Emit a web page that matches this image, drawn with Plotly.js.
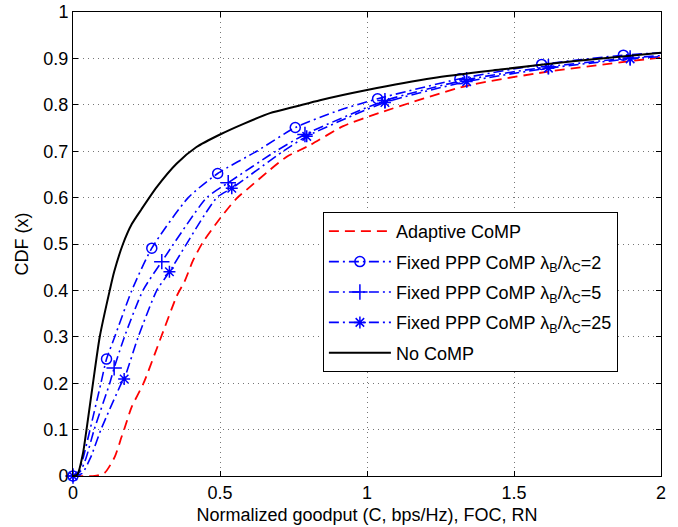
<!DOCTYPE html>
<html>
<head>
<meta charset="utf-8">
<script src="https://cdn.plot.ly/plotly-3.0.1.min.js"></script>
<style>html,body{margin:0;padding:0;background:#fff;}#chart{width:678px;height:527px;}</style>
</head>
<body>
<div id="chart"></div>
<script>
// ---- Data ----
const seriesNames = [
  "Adaptive CoMP",
  "Fixed PPP CoMP λ<sub>B</sub>/λ<sub>C</sub>=2",
  "Fixed PPP CoMP λ<sub>B</sub>/λ<sub>C</sub>=5",
  "Fixed PPP CoMP λ<sub>B</sub>/λ<sub>C</sub>=25",
  "No CoMP"
];

const adaptiveX = [0, 0.074, 0.108, 0.142, 0.165, 0.174, 0.199, 0.24, 0.30, 0.353, 0.38, 0.408, 0.442, 0.5, 0.556, 0.6, 0.67, 0.727, 0.806, 0.919, 1.044, 1.339, 1.611, 2.0];
const adaptiveY = [0, 0, 0.007, 0.041, 0.084, 0.1, 0.148, 0.2, 0.3, 0.388, 0.42, 0.464, 0.504, 0.555, 0.598, 0.622, 0.66, 0.688, 0.713, 0.754, 0.783, 0.841, 0.871, 0.902];

const ppp2X = [0, 0.02, 0.035, 0.058, 0.095, 0.114, 0.142, 0.2, 0.268, 0.392, 0.492, 0.625, 0.756, 0.9, 1.036, 1.316, 1.594, 1.872, 2.0];
const ppp2Y = [0, 0.01, 0.04, 0.1, 0.2, 0.252, 0.3, 0.4, 0.491, 0.6, 0.652, 0.7, 0.751, 0.787, 0.813, 0.856, 0.887, 0.907, 0.912];
const ppp2MarkX = [0, 0.114, 0.268, 0.492, 0.756, 1.036, 1.316, 1.594, 1.872];
const ppp2MarkY = [0, 0.252, 0.491, 0.652, 0.751, 0.813, 0.856, 0.887, 0.907];

const ppp5X = [0, 0.025, 0.045, 0.072, 0.125, 0.14, 0.175, 0.238, 0.302, 0.455, 0.528, 0.69, 0.789, 1.061, 1.339, 1.617, 1.895, 2.0];
const ppp5Y = [0, 0.01, 0.04, 0.1, 0.2, 0.233, 0.3, 0.4, 0.462, 0.6, 0.632, 0.7, 0.736, 0.809, 0.854, 0.882, 0.901, 0.906];
const ppp5MarkX = [0, 0.14, 0.302, 0.528, 0.789, 1.061, 1.339, 1.617, 1.895];
const ppp5MarkY = [0, 0.233, 0.462, 0.632, 0.736, 0.809, 0.854, 0.882, 0.901];

const ppp25X = [0, 0.03, 0.06, 0.095, 0.165, 0.174, 0.222, 0.285, 0.328, 0.489, 0.54, 0.715, 0.795, 1.061, 1.339, 1.617, 1.895, 2.0];
const ppp25Y = [0, 0.005, 0.04, 0.1, 0.2, 0.209, 0.3, 0.4, 0.44, 0.6, 0.62, 0.7, 0.732, 0.805, 0.85, 0.879, 0.899, 0.904];
const ppp25MarkX = [0, 0.174, 0.328, 0.54, 0.795, 1.061, 1.339, 1.617, 1.895];
const ppp25MarkY = [0, 0.209, 0.44, 0.62, 0.732, 0.805, 0.85, 0.879, 0.899];

const noCompX = [0, 0.015, 0.034, 0.046, 0.068, 0.091, 0.125, 0.14, 0.17, 0.2, 0.233, 0.284, 0.352, 0.42, 0.5, 0.58, 0.67, 0.761, 0.84, 1.0, 1.226, 1.453, 1.7, 2.0];
const noCompY = [0, 0.003, 0.049, 0.1, 0.2, 0.3, 0.4, 0.44, 0.5, 0.543, 0.575, 0.622, 0.673, 0.709, 0.736, 0.759, 0.782, 0.797, 0.81, 0.832, 0.858, 0.876, 0.894, 0.912];

const xTicks = [0, 0.5, 1, 1.5, 2];
const xTickText = ["0", "0.5", "1", "1.5", "2"];
const yTicks = [0, 0.1, 0.2, 0.3, 0.4, 0.5, 0.6, 0.7, 0.8, 0.9, 1];
const yTickText = ["0", "0.1", "0.2", "0.3", "0.4", "0.5", "0.6", "0.7", "0.8", "0.9", "1"];

// ---- Styles ----
const BLUE = "#0000ff", RED = "#ff0000", BLACK = "#000000";
const dashDot = "10px,4px,2px,4px";
const dashRed = "10px,6px";
const FONT = "Liberation Sans, Arial, Helvetica, sans-serif";
const FS = 18;

function blueSeries(name, group, x, y, mx, my, symbol, msize) {
  const line = {color: BLUE, width: 1.6, dash: dashDot, shape: "spline", smoothing: 0.6};
  const marker = {symbol: symbol, size: msize, color: BLUE, line: {color: BLUE, width: 1.5}};
  return [
    {x: x, y: y, mode: "lines", line: line, showlegend: false, legendgroup: group, hoverinfo: "skip"},
    {x: mx, y: my, mode: "markers", marker: marker, showlegend: false, legendgroup: group, cliponaxis: false},
    {x: [null], y: [null], mode: "lines+markers", name: name,
     line: {color: BLUE, width: 1.6, dash: dashDot}, marker: marker, legendgroup: group}
  ];
}

const traces = [
  {x: adaptiveX, y: adaptiveY, mode: "lines", name: seriesNames[0], legendgroup: "g1",
   line: {color: RED, width: 1.8, dash: dashRed, shape: "spline", smoothing: 0.6}},
  ...blueSeries(seriesNames[1], "g2", ppp2X, ppp2Y, ppp2MarkX, ppp2MarkY, "circle-open", 10),
  ...blueSeries(seriesNames[2], "g3", ppp5X, ppp5Y, ppp5MarkX, ppp5MarkY, "cross-thin-open", 11),
  ...blueSeries(seriesNames[3], "g4", ppp25X, ppp25Y, ppp25MarkX, ppp25MarkY, "asterisk-open", 10),
  {x: noCompX, y: noCompY, mode: "lines", name: seriesNames[4], legendgroup: "g5",
   line: {color: BLACK, width: 2, shape: "spline", smoothing: 0.6}}
];

const axisCommon = {
  showline: true, mirror: "ticks", linecolor: BLACK, linewidth: 1,
  ticks: "inside", ticklen: 5, tickcolor: BLACK, tickwidth: 1,
  showgrid: true, gridcolor: "#777777", gridwidth: 1, griddash: "1px,4px",
  zeroline: false, tickfont: {family: FONT, size: FS, color: BLACK}
};

const layout = {
  width: 678, height: 527,
  margin: {l: 73, r: 17, t: 12, b: 51},
  paper_bgcolor: "#ffffff", plot_bgcolor: "#ffffff",
  font: {family: FONT, size: FS, color: BLACK},
  showlegend: true,
  xaxis: Object.assign({}, axisCommon, {
    range: [0, 2], tickvals: xTicks, ticktext: xTickText,
    title: {text: "Normalized goodput (C, bps/Hz), FOC, RN", font: {family: FONT, size: FS}, standoff: 6}
  }),
  yaxis: Object.assign({}, axisCommon, {
    range: [0, 1], tickvals: yTicks, ticktext: yTickText,
    title: {text: "CDF (x)", font: {family: FONT, size: FS}, standoff: 10}
  }),
  legend: {
    x: 0.425, y: 0.569, xanchor: "left", yanchor: "top",
    bgcolor: "#ffffff", bordercolor: BLACK, borderwidth: 1,
    font: {family: FONT, size: FS, color: BLACK},
    traceorder: "grouped", tracegroupgap: 4, itemwidth: 62
  }
};

Plotly.newPlot("chart", traces, layout, {staticPlot: true, displayModeBar: false});
</script>
</body>
</html>
